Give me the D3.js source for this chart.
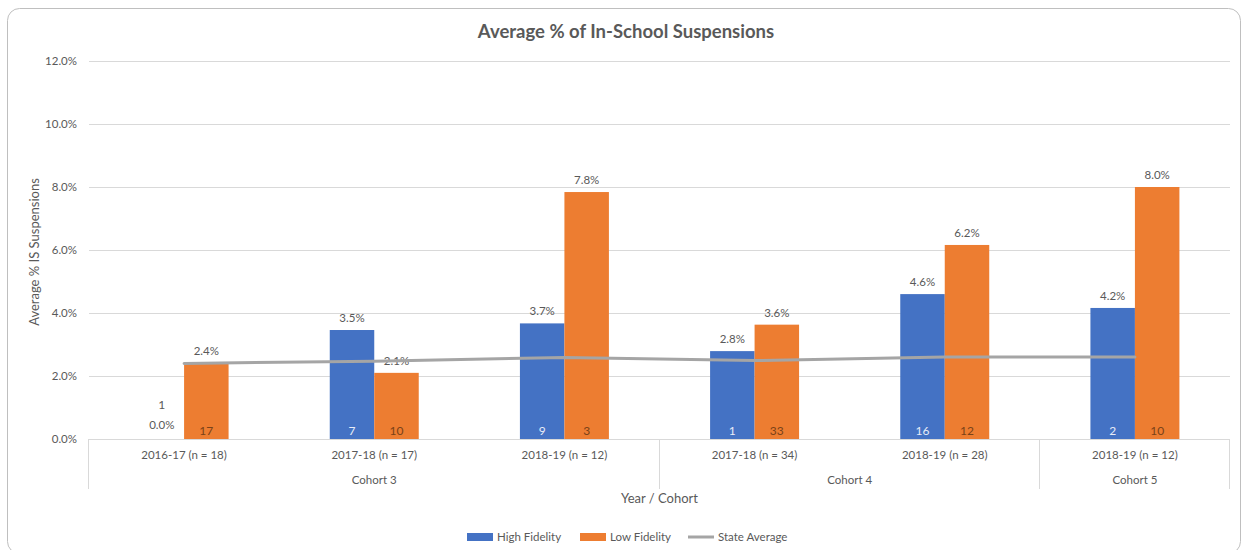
<!DOCTYPE html>
<html><head><meta charset="utf-8">
<script src="https://cdn.jsdelivr.net/npm/d3@7"></script>
<style>
html,body{margin:0;padding:0;background:#fff;}
svg{display:block;font-family:Lato,"Open Sans",sans-serif;}
</style></head>
<body>
<svg id="chart" width="1243" height="550"></svg>
<script>
const years = ["2016-17 (n = 18)","2017-18 (n = 17)","2018-19 (n = 12)","2017-18 (n = 34)","2018-19 (n = 28)","2018-19 (n = 12)"];
const cohorts = ["Cohort 3","Cohort 3","Cohort 3","Cohort 4","Cohort 4","Cohort 5"];
const highFidelity = [0.0, 3.46, 3.67, 2.79, 4.6, 4.16];
const lowFidelity = [2.41, 2.1, 7.84, 3.63, 6.16, 8.0];
const stateAverage = [2.4, 2.47, 2.59, 2.49, 2.6, 2.6];
const highCounts = [1, 7, 9, 1, 16, 2];
const lowCounts = [17, 10, 3, 33, 12, 10];
const yTicks = [0, 2, 4, 6, 8, 10, 12];
const seriesNames = ["High Fidelity", "Low Fidelity"];
const colors = {"High Fidelity":"#4472C4","Low Fidelity":"#ED7D31","State Average":"#A5A5A5"};

const svg = d3.select("#chart");
const L = 89, R = 1230, T = 61, B = 439;
const txt = "#595959";

// border
svg.append("rect").attr("x",7.5).attr("y",8.5).attr("width",1233).attr("height",545)
  .attr("rx",12).attr("fill","#fff").attr("stroke","#bfbfbf").attr("stroke-width",1);

const idx = d3.range(years.length);
const x = d3.scaleBand().domain(idx).range([L, R]).paddingInner(0).paddingOuter(0);
const y = d3.scaleLinear().domain([0, 12]).range([B, T]);
const sub = d3.scaleBand().domain(seriesNames).range([0, x.bandwidth()]).paddingInner(0).paddingOuter(1.137);

// grid
svg.append("g").selectAll("line").data(yTicks.filter(d=>d>0)).join("line")
  .attr("x1",L).attr("x2",R).attr("y1",d=>y(d)+0.5).attr("y2",d=>y(d)+0.5)
  .attr("stroke","#d9d9d9").attr("stroke-width",1);

// y axis labels
const yAxis = d3.axisLeft(y).tickValues(yTicks).tickFormat(d=>d.toFixed(1)+"%").tickSize(0).tickPadding(12);
const yg = svg.append("g").attr("transform",`translate(${L},0)`).call(yAxis);
yg.select(".domain").remove();
yg.selectAll("text").attr("fill",txt).attr("font-size",11.5).attr("font-family","Lato,sans-serif");

// bars
const data = idx.map(i=>({i, vals:[
  {s:"High Fidelity", v:highFidelity[i], n:highCounts[i]},
  {s:"Low Fidelity", v:lowFidelity[i], n:lowCounts[i]}]}));
const groups = svg.append("g").selectAll("g").data(data).join("g")
  .attr("transform",d=>`translate(${x(d.i)},0)`);
groups.selectAll("rect").data(d=>d.vals).join("rect")
  .attr("x",d=>sub(d.s)).attr("width",sub.bandwidth())
  .attr("y",d=>y(d.v)).attr("height",d=>B-y(d.v))
  .attr("fill",d=>colors[d.s]);

// state average line
const line = d3.line().x((d,i)=>x(i)+x.bandwidth()/2).y(d=>y(d));
svg.append("path").datum(stateAverage).attr("d",line)
  .attr("fill","none").attr("stroke",colors["State Average"]).attr("stroke-width",3).attr("stroke-linecap","round");

// value labels
groups.selectAll("text.val").data(d=>d.vals).join("text").attr("class","val")
  .attr("x",d=>sub(d.s)+sub.bandwidth()/2)
  .attr("y",d=>d.v===0 ? B-10 : y(d.v)-8)
  .attr("text-anchor","middle").attr("fill",txt).attr("font-size",11.5)
  .text(d=>d.v.toFixed(1)+"%");
// count labels
groups.selectAll("text.cnt").data(d=>d.vals).join("text").attr("class","cnt")
  .attr("x",d=>sub(d.s)+sub.bandwidth()/2)
  .attr("y",d=>d.v===0 ? B-30 : B-4)
  .attr("text-anchor","middle").attr("font-size",12)
  .attr("fill",d=>d.v===0 ? txt : (d.s==="High Fidelity" ? "#e8ecf7" : "#7a4218"))
  .text(d=>d.n);

// x axis baseline
svg.append("line").attr("x1",L).attr("x2",R).attr("y1",B+0.5).attr("y2",B+0.5).attr("stroke","#d9d9d9");
// group dividers
const cohortNames = Array.from(new Set(cohorts));
const cohortRanges = cohortNames.map(c=>{
  const ids = idx.filter(i=>cohorts[i]===c);
  return {c, x0:x(ids[0]), x1:x(ids[ids.length-1])+x.bandwidth()};
});
const dividers = [L, ...cohortRanges.map(r=>r.x1)];
svg.append("g").selectAll("line").data(dividers).join("line")
  .attr("x1",d=>Math.round(d)-0.5).attr("x2",d=>Math.round(d)-0.5)
  .attr("y1",B).attr("y2",B+50).attr("stroke","#d9d9d9");

// category labels
svg.append("g").selectAll("text").data(idx).join("text")
  .attr("x",i=>x(i)+x.bandwidth()/2).attr("y",B+20)
  .attr("text-anchor","middle").attr("fill",txt).attr("font-size",11.5)
  .text(i=>years[i]);
svg.append("g").selectAll("text").data(cohortRanges).join("text")
  .attr("x",d=>(d.x0+d.x1)/2).attr("y",B+45)
  .attr("text-anchor","middle").attr("fill",txt).attr("font-size",11.5)
  .text(d=>d.c);

// axis titles
svg.append("text").attr("x",(L+R)/2).attr("y",503).attr("text-anchor","middle")
  .attr("fill",txt).attr("font-size",13).text("Year / Cohort");
svg.append("text").attr("transform",`translate(39,${(T+B)/2+2}) rotate(-90)`).attr("text-anchor","middle")
  .attr("fill",txt).attr("font-size",13).text("Average % IS Suspensions");

// title
svg.append("text").attr("x",626).attr("y",38).attr("text-anchor","middle")
  .attr("fill",txt).attr("font-size",18.5).attr("font-weight","bold").text("Average % of In-School Suspensions");

// legend
const legendItems = [
  {name:"High Fidelity", type:"rect", x:467},
  {name:"Low Fidelity", type:"rect", x:580},
  {name:"State Average", type:"line", x:688}
];
const lg = svg.append("g").selectAll("g").data(legendItems).join("g")
  .attr("transform",d=>`translate(${d.x},537)`);
lg.filter(d=>d.type==="rect").append("rect").attr("x",0).attr("y",-4).attr("width",26).attr("height",8)
  .attr("fill",d=>colors[d.name]);
lg.filter(d=>d.type==="line").append("line").attr("x1",0).attr("x2",26).attr("y1",0).attr("y2",0)
  .attr("stroke",d=>colors[d.name]).attr("stroke-width",3);
lg.append("text").attr("x",30).attr("y",4).attr("fill",txt).attr("font-size",11.5).text(d=>d.name);
</script>
</body></html>
